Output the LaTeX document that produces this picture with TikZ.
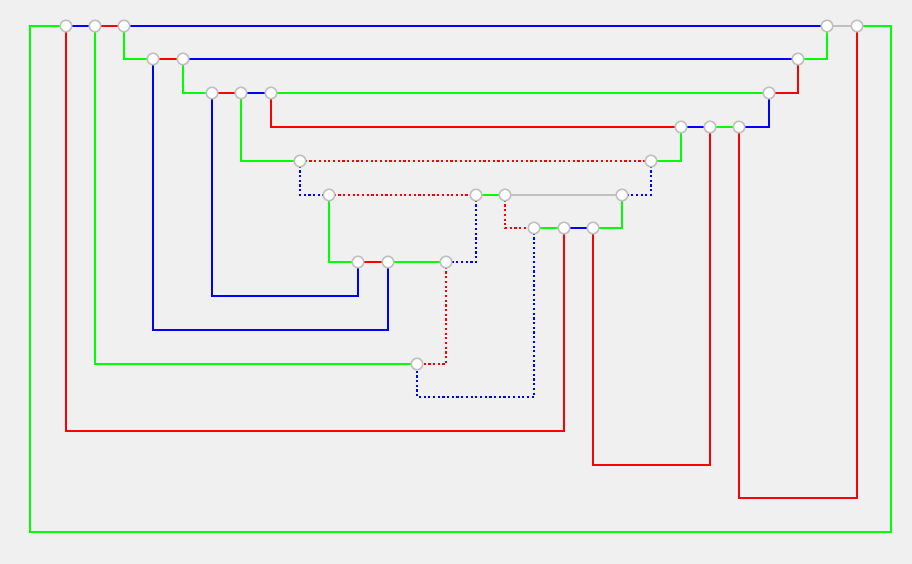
\documentclass[tikz,border=0pt]{standalone}
\usetikzlibrary{backgrounds}
\definecolor{gG}{HTML}{00FF00}
\definecolor{gB}{HTML}{0000FF}
\definecolor{gR}{HTML}{FF0000}
\definecolor{gY}{HTML}{C0C0C0}
\definecolor{bg}{HTML}{F0F0F0}
\begin{document}
\begin{tikzpicture}[x=1pt,y=-1pt,
  dot/.style={circle,draw=gY,fill=white,line width=1.6pt,minimum size=11.5pt,inner sep=0pt},
  G/.style={draw=gG,line width=2.3pt},
  B/.style={draw=gB,line width=2.3pt},
  R/.style={draw=gR,line width=2.3pt},
  Y/.style={draw=gY,line width=2.3pt},
  BD/.style={draw=gB,line width=2.3pt,dash pattern=on 2.2pt off 2.5pt},
  RD/.style={draw=gR,line width=2.3pt,dash pattern=on 2.2pt off 2.5pt}]
\useasboundingbox (0,0) rectangle (912,564);
\node[dot] (A1) at (66,26) {};
\node[dot] (A2) at (95,26) {};
\node[dot] (A3) at (124,26) {};
\node[dot] (A4) at (827,26) {};
\node[dot] (A5) at (857,26) {};
\node[dot] (B1) at (153,59) {};
\node[dot] (B2) at (183,59) {};
\node[dot] (B3) at (798,59) {};
\node[dot] (C1) at (212,93) {};
\node[dot] (C2) at (241,93) {};
\node[dot] (C3) at (271,93) {};
\node[dot] (C4) at (769,93) {};
\node[dot] (D1) at (681,127) {};
\node[dot] (D2) at (710,127) {};
\node[dot] (D3) at (739,127) {};
\node[dot] (E1) at (300,161) {};
\node[dot] (E2) at (651,161) {};
\node[dot] (F1) at (329,195) {};
\node[dot] (F2) at (476,195) {};
\node[dot] (F3) at (505,195) {};
\node[dot] (F4) at (622,195) {};
\node[dot] (G1) at (534,228) {};
\node[dot] (G2) at (564,228) {};
\node[dot] (G3) at (593,228) {};
\node[dot] (H1) at (358,262) {};
\node[dot] (H2) at (388,262) {};
\node[dot] (H3) at (446,262) {};
\node[dot] (I1) at (417,364) {};
\begin{pgfonlayer}{background}
\fill[bg] (0,0) rectangle (912,564);
% horizontal links
\draw[B] (A1.center) -- (A2.center);
\draw[R] (A2.center) -- (A3.center);
\draw[B] (A3.center) -- (A4.center);
\draw[Y] (A4.center) -- (A5.center);
\draw[R] (B1.center) -- (B2.center);
\draw[B] (B2.center) -- (B3.center);
\draw[R] (C1.center) -- (C2.center);
\draw[B] (C2.center) -- (C3.center);
\draw[G] (C3.center) -- (C4.center);
\draw[B] (D1.center) -- (D2.center);
\draw[G] (D2.center) -- (D3.center);
\draw[RD] (E1.center) -- (E2.center);
\draw[RD] (F1.center) -- (F2.center);
\draw[G] (F2.center) -- (F3.center);
\draw[Y] (F3.center) -- (F4.center);
\draw[G] (G1.center) -- (G2.center);
\draw[B] (G2.center) -- (G3.center);
\draw[R] (H1.center) -- (H2.center);
\draw[G] (H2.center) -- (H3.center);
% bent links
\draw[G] (A1.center) -| (30,532) -| (891,26) -- (A5.center);
\draw[R] (A1.center) |- (564,431) -- (G2.center);
\draw[G] (A2.center) |- (I1.center);
\draw[G] (A3.center) |- (B1.center);
\draw[G] (A4.center) |- (B3.center);
\draw[R] (A5.center) |- (739,498) -- (D3.center);
\draw[B] (B1.center) |- (388,330) -- (H2.center);
\draw[G] (B2.center) |- (C1.center);
\draw[R] (B3.center) |- (C4.center);
\draw[B] (C1.center) |- (358,296) -- (H1.center);
\draw[G] (C2.center) |- (E1.center);
\draw[R] (C3.center) |- (D1.center);
\draw[B] (C4.center) |- (D3.center);
\draw[G] (D1.center) |- (E2.center);
\draw[R] (D2.center) |- (593,465) -- (G3.center);
\draw[BD] (E1.center) |- (F1.center);
\draw[BD] (E2.center) |- (F4.center);
\draw[G] (F1.center) |- (H1.center);
\draw[BD] (F2.center) |- (H3.center);
\draw[RD] (F3.center) |- (G1.center);
\draw[G] (F4.center) |- (G3.center);
\draw[BD] (G1.center) |- (417,397) -- (I1.center);
\draw[RD] (H3.center) |- (I1.center);
\end{pgfonlayer}
\end{tikzpicture}
\end{document}
